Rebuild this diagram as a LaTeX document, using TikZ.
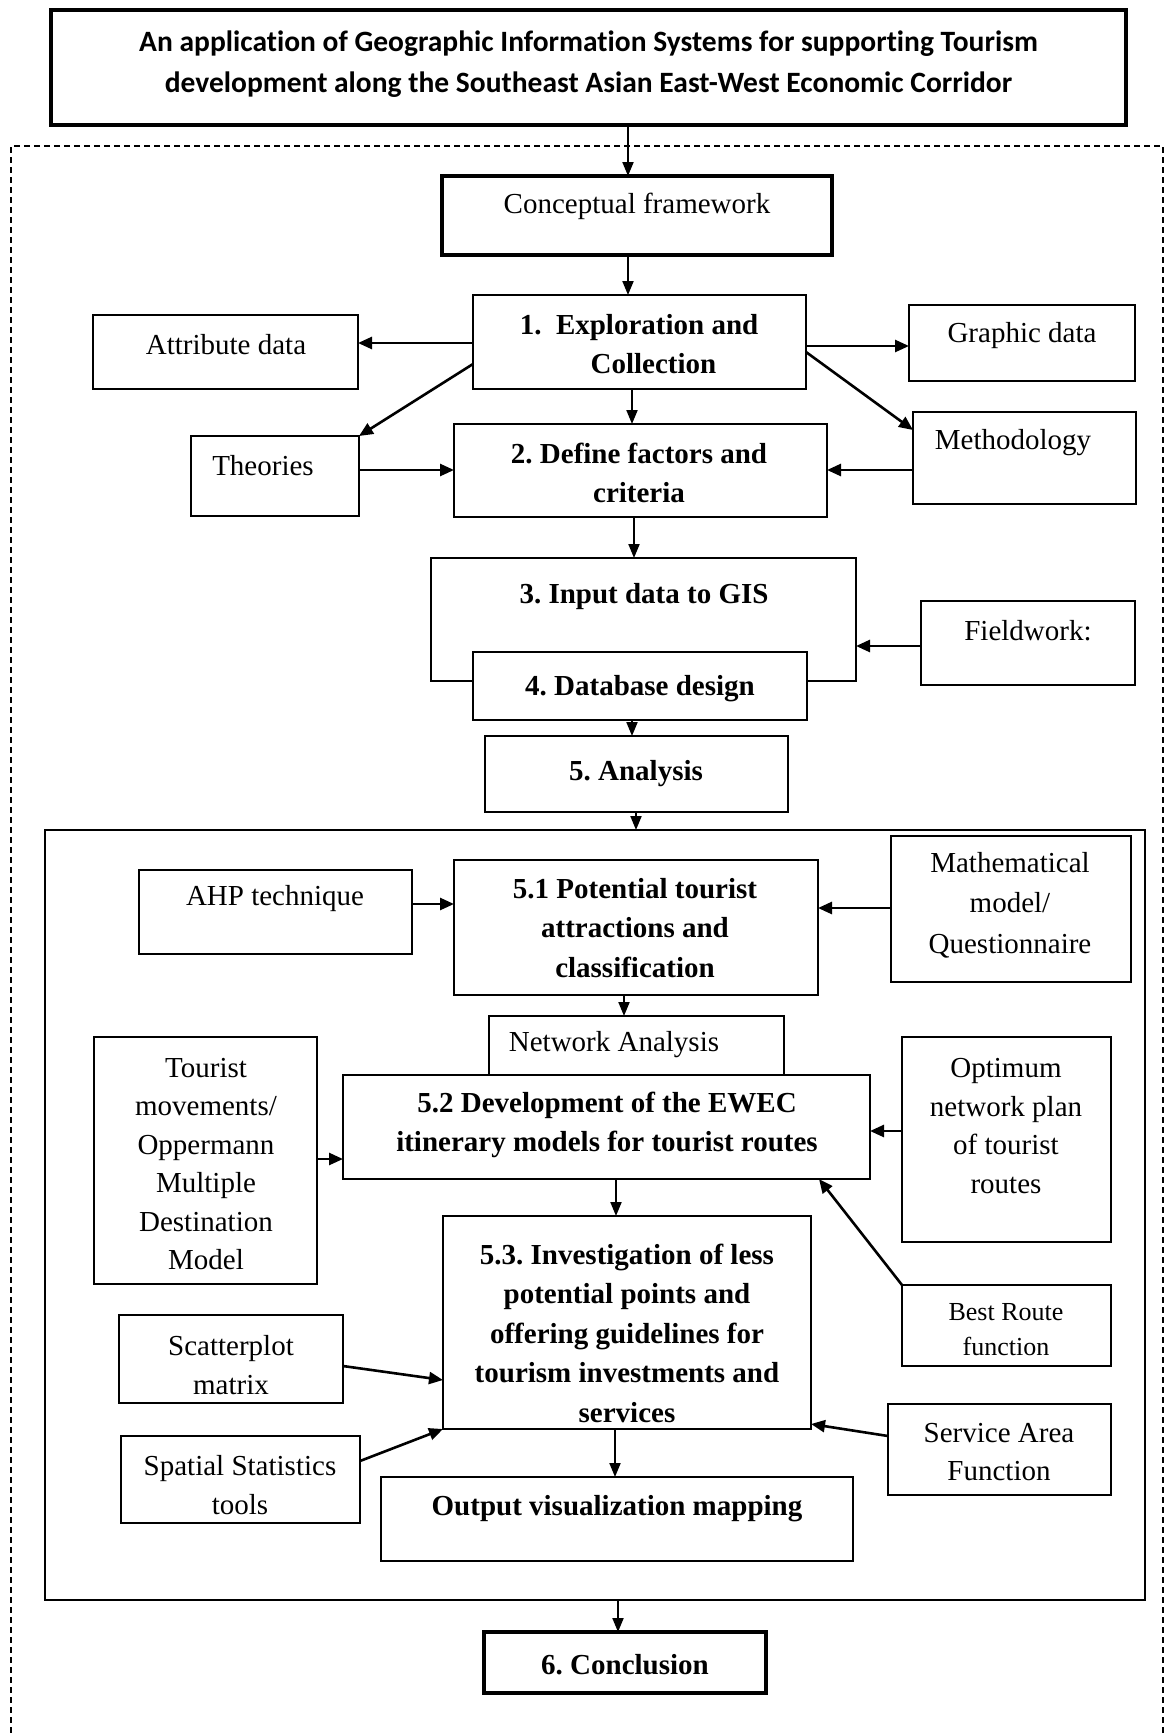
\documentclass[tikz,border=0pt]{standalone}
\usepackage{fontspec}
\setmainfont{Liberation Serif}
\newfontfamily\titlefont{Carlito}[Ligatures=NoCommon]
\usetikzlibrary{arrows.meta}
\frenchspacing
\begin{document}
\begin{tikzpicture}[x=1pt,y=-1pt,
  box/.style={draw, line width=2pt, fill=white, inner sep=0pt, outer sep=0pt, anchor=north west},
  thickbox/.style={box, line width=4.5pt},
  txt/.style={font=\fontsize{29}{38.5}\selectfont, align=center, inner sep=0pt},
  btxt/.style={txt, font=\fontsize{29}{39.5}\selectfont\bfseries},
  arr/.style={line width=2.6pt, -{Triangle[length=14pt,width=12pt]}},
  varr/.style={line width=2pt, -{Triangle[length=14pt,width=11pt]}},
]
\fill[white] (0,0) rectangle (1167,1733);
\useasboundingbox (0,0) rectangle (1167,1733);

% outer dashed frame
\draw[line width=1.5pt, dash pattern=on 6pt off 4pt] (11,1733) -- (11,146) -- (1163,146) -- (1163,1733);

% boxes
\node[thickbox, minimum width=1075pt, minimum height=115pt] (title) at (51,10) {};
\node[thickbox, minimum width=390pt, minimum height=79pt] (cf) at (442,176) {};
\node[box, minimum width=333pt, minimum height=94pt] (box1) at (473,295) {};
\node[box, minimum width=265pt, minimum height=74pt] (attr) at (93,315) {};
\node[box, minimum width=226pt, minimum height=76pt] (graphic) at (909,305) {};
\node[box, minimum width=168pt, minimum height=80pt] (theories) at (191,436) {};
\node[box, minimum width=373pt, minimum height=93pt] (box2) at (454,424) {};
\node[box, minimum width=223pt, minimum height=92pt] (meth) at (913,412) {};
\node[box, minimum width=425pt, minimum height=123pt] (box3) at (431,558) {};
\node[box, minimum width=334pt, minimum height=68pt] (box4) at (473,652) {};
\node[box, minimum width=303pt, minimum height=76pt] (box5) at (485,736) {};
\node[box, minimum width=214pt, minimum height=84pt] (field) at (921,601) {};
\node[box, line width=2.4pt, fill=none, minimum width=1100pt, minimum height=770pt] (inner) at (45,830) {};
\node[box, minimum width=273pt, minimum height=84pt] (ahp) at (139,870) {};
\node[box, minimum width=364pt, minimum height=135pt] (p51) at (454,860) {};
\node[box, minimum width=240pt, minimum height=146pt] (math) at (891,836) {};
\node[box, minimum width=295pt, minimum height=59pt] (net) at (489,1016) {};
\node[box, minimum width=527pt, minimum height=104pt] (p52) at (343,1075) {};
\node[box, minimum width=223pt, minimum height=247pt] (tour) at (94,1037) {};
\node[box, minimum width=209pt, minimum height=205pt] (opt) at (902,1037) {};
\node[box, minimum width=209pt, minimum height=81pt] (best) at (902,1285) {};
\node[box, minimum width=368pt, minimum height=213pt] (p53) at (443,1216) {};
\node[box, minimum width=224pt, minimum height=88pt] (scat) at (119,1315) {};
\node[box, minimum width=239pt, minimum height=87pt] (spat) at (121,1436) {};
\node[box, minimum width=223pt, minimum height=91pt] (serv) at (888,1404) {};
\node[box, minimum width=472pt, minimum height=84pt] (out) at (381,1477) {};
\node[thickbox, minimum width=282pt, minimum height=61pt] (concl) at (484,1632) {};

% texts
\node[font=\titlefont\bfseries\fontsize{29.5}{41}\selectfont, align=center, inner sep=0pt] (title-t) at (588.5,64) {An application of Geographic Information Systems for supporting Tourism\\development along the Southeast Asian East-West Economic Corridor};
\node[txt] (cf-t) at (637,206) {Conceptual framework};
\node[btxt] (box1-t) at (639,344) {1.\enspace Exploration and\\\hspace*{1em}Collection};
\node[txt] (attr-t) at (226,345) {Attribute data};
\node[txt] (graphic-t) at (1022,336) {Graphic data};
\node[txt] (theories-t) at (263,466) {Theories};
\node[btxt] (box2-t) at (639,473) {2. Define factors and\\criteria};
\node[txt] (meth-t) at (1013,443) {Methodology};
\node[btxt] (box3-t) at (644,597) {3. Input data to GIS};
\node[btxt] (box4-t) at (640,689) {4. Database design};
\node[btxt] (box5-t) at (636,774) {5. Analysis};
\node[txt] (field-t) at (1028,631) {Fieldwork:};
\node[txt] (ahp-t) at (275,899) {AHP technique};
\node[btxt] (p51-t) at (635,928) {5.1 Potential tourist\\attractions and\\classification};
\node[txt, font=\fontsize{29}{40.5}\selectfont] (math-t) at (1010,905) {Mathematical\\model/\\Questionnaire};
\node[txt] (net-t) at (614,1045) {Network Analysis};
\node[btxt] (p52-t) at (607,1125) {5.2 Development of the EWEC\\itinerary models for tourist routes};
\node[txt] (tour-t) at (206,1164) {Tourist\\movements/\\Oppermann\\Multiple\\Destination\\Model};
\node[txt] (opt-t) at (1006,1126) {Optimum\\network plan\\of tourist\\routes};
\node[txt, font=\fontsize{26}{35}\selectfont] (best-t) at (1006,1330) {Best Route\\function};
\node[btxt] (p53-t) at (627,1333) {5.3. Investigation of less\\potential points and\\offering guidelines for\\tourism investments and\\services};
\node[txt] (scat-t) at (231,1365) {Scatterplot\\matrix};
\node[txt] (spat-t) at (240,1485) {Spatial Statistics\\tools};
\node[txt, font=\fontsize{29}{37.5}\selectfont] (serv-t) at (999,1452) {Service Area\\Function};
\node[btxt] (out-t) at (617,1509) {Output visualization mapping};
\node[btxt] (concl-t) at (625,1665) {6. Conclusion};

% connectors
\draw[varr] (title.south -| 628,0) -- (cf.north -| 628,0);
\draw[varr] (cf.south -| 628,0) -- (box1.north -| 628,0);
\draw[arr] (box1.west |- 0,343) -- (attr.east |- 0,343);
\draw[arr] (box1.east |- 0,346) -- (graphic.west |- 0,346);
\draw[arr] (box1.west |- 0,364) -- (theories.north east);
\draw[arr] (box1.east |- 0,352) -- (meth.west |- 0,430);
\draw[varr] (box1.south -| 632,0) -- (box2.north -| 632,0);
\draw[arr] (theories.east |- 0,470) -- (box2.west |- 0,470);
\draw[arr] (meth.west |- 0,470) -- (box2.east |- 0,470);
\draw[varr] (box2.south -| 634,0) -- (box3.north -| 634,0);
\draw[arr] (field.west |- 0,646) -- (box3.east |- 0,646);
\draw[varr] (box4.south -| 632,0) -- (box5.north -| 632,0);
\draw[varr] (box5.south -| 636,0) -- (inner.north -| 636,0);
\draw[arr] (ahp.east |- 0,904) -- (p51.west |- 0,904);
\draw[arr] (math.west |- 0,908) -- (p51.east |- 0,908);
\draw[varr] (p51.south -| 624,0) -- (net.north -| 624,0);
\draw[arr] (tour.east |- 0,1159) -- (p52.west |- 0,1159);
\draw[arr] (opt.west |- 0,1131) -- (p52.east |- 0,1131);
\draw[arr] (best.north west) -- (p52.south -| 819,0);
\draw[varr] (p52.south -| 616,0) -- (p53.north -| 616,0);
\draw[arr] (scat.east |- 0,1366) -- (p53.west |- 0,1380);
\draw[arr] (spat.east |- 0,1461) -- (p53.south west);
\draw[arr] (serv.west |- 0,1436) -- (p53.east |- 0,1424);
\draw[varr] (p53.south -| 615,0) -- (out.north -| 615,0);
\draw[varr] (inner.south -| 618,0) -- (concl.north -| 618,0);
\end{tikzpicture}
\end{document}
